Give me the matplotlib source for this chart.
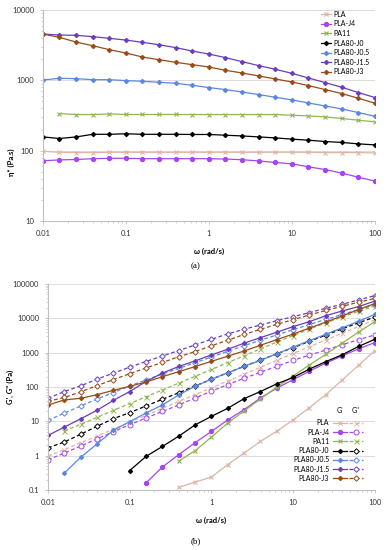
import matplotlib
matplotlib.use('Agg')
import matplotlib.pyplot as plt
from matplotlib.lines import Line2D
from matplotlib.ticker import FixedLocator, FuncFormatter, LogLocator, NullFormatter
import numpy as np

nan = np.nan

# angular frequency (rad/s), 5 points per decade
w = [0.01, 0.0158, 0.0251, 0.0398, 0.0631, 0.1, 0.158, 0.251, 0.398, 0.631,
     1.0, 1.58, 2.51, 3.98, 6.31, 10.0, 15.8, 25.1, 39.8, 63.1, 100.0]

names = ['PLA', 'PLA-J4', 'PA11', 'PLA80-J0', 'PLA80-J0.5', 'PLA80-J1.5', 'PLA80-J3']

# (a) complex viscosity, Pa.s
eta_pla = [98, 95, 94, 94, 95, 95, 95, 95, 95, 95, 95, 95, 95, 95, 95, 95, 95, 94, 94, 94, 93]
eta_pla_j4 = [72, 74, 75, 77, 78, 78, 77, 77, 77, 77, 77, 76, 74.5, 71.5, 68, 65, 59, 54, 48, 42, 37]
eta_pa11 = [nan, 337, 326, 326, 333, 327, 327, 327, 327, 326, 326, 326, 326, 326, 326, 319, 312, 302, 287, 271, 257]
eta_j0 = [157, 149, 157, 171, 171, 174, 171, 171, 171, 170, 170, 166, 162, 157, 152, 146, 141, 135, 131, 125, 121]
eta_j05 = [1010, 1067, 1055, 1020, 1020, 990, 968, 937, 907, 850, 788, 738, 682, 627, 574, 526, 476, 432, 392, 348, 308]
eta_j15 = [4540, 4400, 4350, 4170, 3945, 3730, 3460, 3200, 2910, 2600, 2360, 2100, 1840, 1616, 1432, 1256, 1078, 927, 796, 670, 569]
eta_j3 = [4540, 4070, 3490, 3100, 2720, 2440, 2140, 1960, 1800, 1667, 1545, 1387, 1270, 1152, 1044, 946, 841, 738, 648, 556, 472]

# (b) storage modulus G' and loss modulus G'', Pa
g1_pla = [nan] * 8 + [0.12, 0.17, 0.24, 0.55, 1.2, 2.6, 5.2, 11, 25, 60, 160, 430, 1150]
g2_pla = [0.98, 1.5, 2.4, 3.7, 6.0, 9.5, 15, 24, 38, 60, 95, 150, 238, 377, 598, 950, 1500, 2350, 3700, 5800, 9000]
g1_pla_j4 = [nan] * 6 + [0.16, 0.47, 1.07, 2.4, 5.1, 11, 22, 48, 93, 165, 290, 500, 800, 1300, 1970]
g2_pla_j4 = [0.76, 1.2, 1.9, 3.1, 5.0, 8.0, 12.5, 19.5, 30, 48, 76, 118, 180, 270, 400, 600, 850, 1200, 1700, 2400, 3300]
g1_pa11 = [nan] * 8 + [0.7, 1.4, 3.5, 9, 20, 45, 100, 210, 440, 900, 1900, 4000, 8000]
g2_pa11 = [nan, 5.3, 8.2, 13, 21, 33, 52, 82, 130, 205, 325, 515, 815, 1290, 2040, 3150, 4850, 7400, 11000, 16000, 23000]
g1_j0 = [nan] * 5 + [0.37, 0.95, 1.86, 3.7, 7.9, 14, 24, 46, 74, 124, 190, 333, 550, 870, 1520, 2460]
g2_j0 = [1.7, 2.5, 4.2, 7.2, 12, 18, 28, 44, 68, 107, 168, 260, 400, 610, 930, 1400, 2150, 3250, 4950, 7400, 11000]
g1_j05 = [nan, 0.31, 0.9, 2.2, 5.5, 9.8, 17.5, 30, 59, 105, 170, 260, 400, 600, 930, 1450, 2250, 3450, 5300, 8200, 13000]
g2_j05 = [10.7, 17.4, 28, 45, 69, 108, 160, 240, 350, 510, 750, 1100, 1600, 2300, 3300, 4700, 6600, 9300, 13000, 18000, 25000]
g1_j15 = [3.9, 6.8, 11.9, 21, 41, 74, 145, 254, 398, 578, 863, 1260, 1890, 2750, 3950, 5750, 8020, 11970, 16400, 22000, 32000]
g2_j15 = [47, 74, 108, 170, 254, 380, 552, 807, 1150, 1690, 2460, 3520, 4820, 6430, 8570, 11200, 14700, 19700, 25700, 34300, 46000]
g1_j3 = [30, 42, 47, 60, 80, 105, 140, 200, 280, 395, 560, 790, 1120, 1650, 2400, 3500, 5200, 7800, 11800, 18000, 27000]
g2_j3 = [38, 50, 72, 110, 165, 245, 360, 520, 760, 1076, 1600, 2300, 3400, 4800, 6700, 9200, 12500, 17000, 22500, 29500, 38000]

colors = ['#DDB5A6', '#A646F0', '#93B553', '#000000', '#5A88E0', '#6A3DBE', '#9A4A16']
markers = ['x', 'o', 'x', 'D', 'D', 'D', 'D']
msizes = [3.0, 3.0, 3.0, 2.2, 2.2, 2.2, 2.2]

etas = [eta_pla, eta_pla_j4, eta_pa11, eta_j0, eta_j05, eta_j15, eta_j3]
g1s = [g1_pla, g1_pla_j4, g1_pa11, g1_j0, g1_j05, g1_j15, g1_j3]
g2s = [g2_pla, g2_pla_j4, g2_pa11, g2_j0, g2_j05, g2_j15, g2_j3]

plt.rcParams['font.family'] = ['Lato', 'DejaVu Sans']
TICK_FS = 5.5
GRID = '#dcdcdc'
SPINE = '#bfbfbf'


def style_axes(ax, yticks):
    ax.set_xscale('log')
    ax.set_yscale('log')
    for s in ['top', 'right']:
        ax.spines[s].set_visible(False)
    for s in ['left', 'bottom']:
        ax.spines[s].set_color(SPINE)
        ax.spines[s].set_linewidth(0.8)
    ax.set_xlim(0.01, 100)
    ax.set_ylim(yticks[0], yticks[-1])
    ax.xaxis.set_major_locator(FixedLocator([0.01, 0.1, 1, 10, 100]))
    ax.yaxis.set_major_locator(FixedLocator(yticks))
    fmt = FuncFormatter(lambda v, p: '{:g}'.format(v))
    ax.xaxis.set_major_formatter(fmt)
    ax.yaxis.set_major_formatter(fmt)
    ax.xaxis.set_minor_locator(LogLocator(base=10, subs=np.arange(2, 10)))
    ax.yaxis.set_minor_locator(LogLocator(base=10, subs=np.arange(2, 10)))
    ax.xaxis.set_minor_formatter(NullFormatter())
    ax.yaxis.set_minor_formatter(NullFormatter())
    ax.tick_params(which='major', length=2.5, width=0.6, color=SPINE,
                   labelsize=TICK_FS, labelcolor='#333333', pad=4)
    ax.tick_params(which='minor', length=1.5, width=0.5, color=SPINE)
    ax.grid(True, which='major', axis='y', color=GRID, linewidth=0.7)
    ax.set_axisbelow(True)


fig = plt.figure(figsize=(3.91, 5.5), dpi=100)

# ---- (a) complex viscosity ----
ax1 = fig.add_axes([0.110, 0.598, 0.849, 0.384])
style_axes(ax1, [10, 100, 1000, 10000])
for name, eta, c, m, ms in zip(names, etas, colors, markers, msizes):
    ax1.plot(w, eta, color=c, marker=m, markersize=ms, linewidth=0.9,
             markeredgewidth=0.8, label=name)
ax1.legend(loc='upper right', bbox_to_anchor=(0.985, 1.0), frameon=False,
           fontsize=5.0, handlelength=1.5, handletextpad=0.3,
           labelspacing=0.38, borderaxespad=0.0, borderpad=0.1)
ax1.set_xlabel('ω (rad/s)', fontsize=5.5, fontweight='bold', labelpad=8)
ax1.set_ylabel('η* (Pa.s)', fontsize=5.5, fontweight='bold')
ax1.yaxis.set_label_coords(-0.085, 0.28)
fig.text(0.5, 1 - 266 / 550, '(a)', ha='center', va='center',
         fontsize=6.5, family='Liberation Serif')

# ---- (b) dynamic moduli ----
ax2 = fig.add_axes([0.1228, 0.109, 0.836, 0.3746])
style_axes(ax2, [0.1, 1, 10, 100, 1000, 10000, 100000])
for g1, g2, c, m, ms in zip(g1s, g2s, colors, markers, msizes):
    ax2.plot(w, g1, color=c, marker=m, markersize=ms, linewidth=0.9,
             markeredgewidth=0.8)
    ax2.plot(w, g2, color=c, marker=m, markersize=ms + 0.6, linewidth=0.9,
             linestyle=(0, (3, 2)), markerfacecolor='white', markeredgewidth=0.7)
ax2.set_xlabel('ω (rad/s)', fontsize=5.5, fontweight='bold', labelpad=8)
ax2.set_ylabel("G', G'' (Pa)", fontsize=5.5, fontweight='bold')
ax2.yaxis.set_label_coords(-0.105, 0.5)
fig.text(0.5, 1 - 541 / 550, '(b)', ha='center', va='center',
         fontsize=6.5, family='Liberation Serif')

# legend for (b): name, G' sample, G'' sample
solid_h = [Line2D([], [], color=c, marker=m, markersize=ms, linewidth=0.9,
                  markeredgewidth=0.8) for c, m, ms in zip(colors, markers, msizes)]
dash_h = [Line2D([], [], color=c, marker=m, markersize=ms + 0.6, linewidth=0.9,
                 linestyle=(0, (3, 2)), markerfacecolor='white', markeredgewidth=0.7)
          for c, m, ms in zip(colors, markers, msizes)]
leg = ax2.legend(solid_h + dash_h, names + [''] * 7, ncol=2, markerfirst=False,
                 loc='lower right', bbox_to_anchor=(0.975, 0.02), frameon=False,
                 fontsize=5.0, handlelength=2.0, handletextpad=0.6,
                 columnspacing=-0.4, labelspacing=0.32, borderpad=0.1)
fig.canvas.draw()
# put the G' / G'' headers above the two handle columns
inv = fig.transFigure.inverted()
hl = leg.legend_handles
for h, txt in [(hl[0], "G'"), (hl[7], "G''")]:
    bb = h.get_window_extent(fig.canvas.get_renderer())
    x0, y0 = inv.transform((0.5 * (bb.x0 + bb.x1), bb.y1))
    fig.text(x0, y0 + 0.012, txt, ha='center', va='bottom', fontsize=5.0)

fig.savefig('out.png', dpi=100)
